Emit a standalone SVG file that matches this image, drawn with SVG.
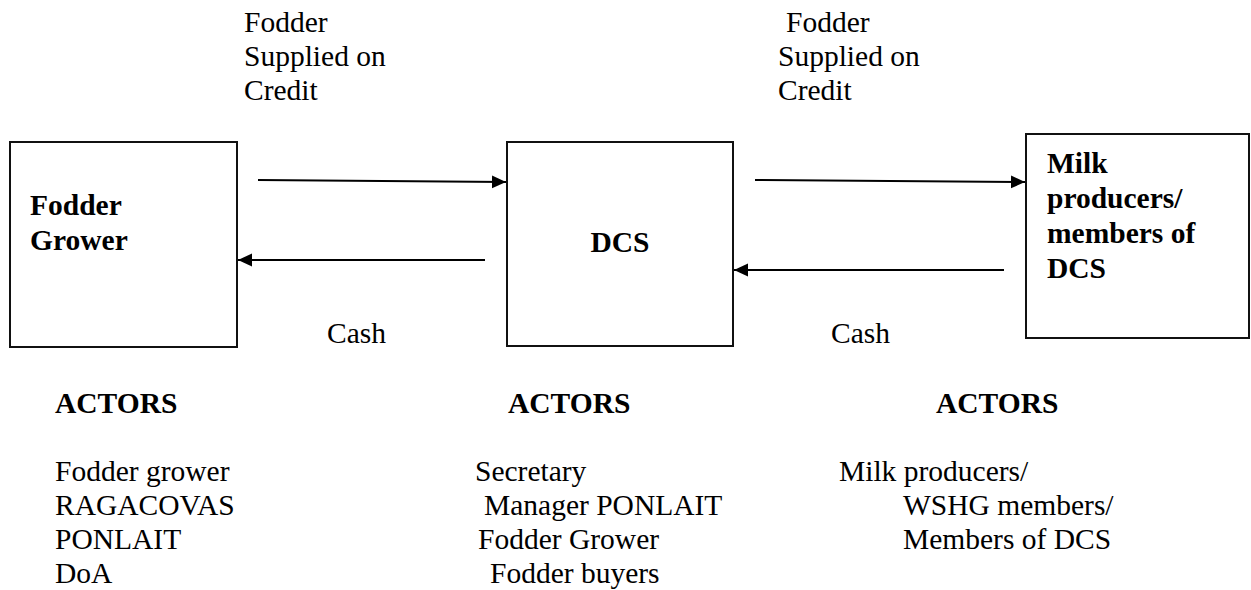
<svg xmlns="http://www.w3.org/2000/svg" width="1251" height="590" viewBox="0 0 1251 590">
<style>
.t{font-family:"Liberation Serif","Times New Roman",serif;font-size:29.5px;fill:#000}
.b{font-weight:bold}
.box{fill:#fff;stroke:#111;stroke-width:2}
.ln{stroke:#000;stroke-width:2;fill:none}
</style>
<defs>
<marker id="ah" markerUnits="userSpaceOnUse" markerWidth="15" markerHeight="14" refX="14" refY="6.5" orient="auto">
<path d="M0,0 L14,6.5 L0,13 Z" fill="#000"/>
</marker>
</defs>
<rect width="1251" height="590" fill="#fff"/>
<g id="node-fodder-grower">
<rect class="box" x="10" y="142" width="227" height="205"/>
<text class="t b" x="30" y="215">Fodder</text>
<text class="t b" x="30" y="250">Grower</text>
</g>
<g id="node-dcs">
<rect class="box" x="507" y="142" width="226" height="204"/>
<text class="t b" x="620" y="252" text-anchor="middle">DCS</text>
</g>
<g id="node-milk-producers">
<rect class="box" x="1026" y="134" width="223" height="204"/>
<text class="t b" x="1047" y="173">Milk</text>
<text class="t b" x="1047" y="208">producers/</text>
<text class="t b" x="1047" y="243">members of</text>
<text class="t b" x="1047" y="278">DCS</text>
</g>
<g id="connectors">
<line class="ln" x1="258" y1="180" x2="506" y2="182" marker-end="url(#ah)"/>
<line class="ln" x1="485" y1="260" x2="238" y2="260" marker-end="url(#ah)"/>
<line class="ln" x1="755" y1="180" x2="1025" y2="182" marker-end="url(#ah)"/>
<line class="ln" x1="1004" y1="270" x2="734" y2="270" marker-end="url(#ah)"/>
</g>
<g id="labels">
<text class="t" x="244" y="32">Fodder</text>
<text class="t" x="244" y="66">Supplied on</text>
<text class="t" x="244" y="100">Credit</text>
<text class="t" x="786" y="32">Fodder</text>
<text class="t" x="778" y="66">Supplied on</text>
<text class="t" x="778" y="100">Credit</text>
<text class="t" x="327" y="343">Cash</text>
<text class="t" x="831" y="343">Cash</text>
</g>
<g id="actors">
<text class="t b" x="55" y="413">ACTORS</text>
<text class="t b" x="508" y="413">ACTORS</text>
<text class="t b" x="936" y="413">ACTORS</text>
<text class="t" x="55" y="481">Fodder grower</text>
<text class="t" x="55" y="515">RAGACOVAS</text>
<text class="t" x="55" y="549">PONLAIT</text>
<text class="t" x="55" y="583">DoA</text>
<text class="t" x="475" y="481">Secretary</text>
<text class="t" x="484" y="515">Manager PONLAIT</text>
<text class="t" x="478" y="549">Fodder Grower</text>
<text class="t" x="490" y="583">Fodder buyers</text>
<text class="t" x="839" y="481">Milk producers/</text>
<text class="t" x="903" y="515">WSHG members/</text>
<text class="t" x="903" y="549">Members of DCS</text>
</g>
</svg>
